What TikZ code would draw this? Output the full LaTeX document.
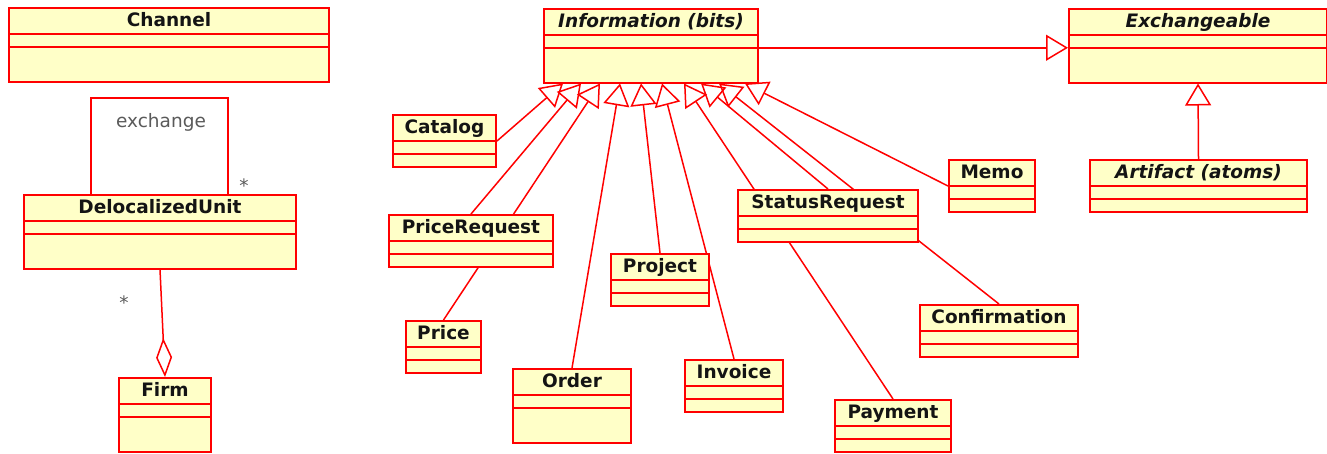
\documentclass[tikz,border=0pt]{standalone}
\usepackage{fontspec}
\setmainfont{DejaVu Sans}
\usetikzlibrary{arrows.meta,backgrounds}

\definecolor{umlred}{RGB}{255,0,0}
\definecolor{umlfill}{RGB}{255,255,200}
\definecolor{umltext}{RGB}{20,20,20}
\definecolor{umlgray}{RGB}{90,90,90}

\begin{document}
\begin{tikzpicture}[
  x=1pt, y=-1pt,
  font=\fontsize{18.5}{22}\selectfont\bfseries,
  cls/.style={draw=umlred, fill=umlfill, line width=2pt, inner sep=0pt, anchor=north west,
    text=umltext, text height=18.5pt, text depth=33.5pt},
  big/.style={text depth=55pt},
  abstr/.style={font=\fontsize{18.5}{22}\selectfont\bfseries\itshape},
  sep/.style={draw=umlred, line width=2pt},
  gen/.style={-{Triangle[open, length=22pt, width=26pt]}, draw=umlred, line width=1.5pt},
  aggr/.style={-{Diamond[open, length=39pt, width=16pt]}, draw=umlred, line width=1.5pt},
  assoc/.style={draw=umlred, line width=1.5pt},
  lbl/.style={text=umlgray, font=\fontsize{18.5}{22}\selectfont, anchor=base, inner sep=0pt}
]
\useasboundingbox (0,0) rectangle (1327,453);

% left part
\node[cls, big, minimum width=320pt] (channel) at (8,7) {Channel};
\node[cls, big, minimum width=272pt] (unit) at (23,194) {DelocalizedUnit};
\node[cls, big, minimum width=92pt] (firm) at (118,377) {Firm};

% abstract classes
\node[cls, big, abstr, minimum width=214pt] (info) at (543,8) {Information (bits)};
\node[cls, big, abstr, minimum width=258pt] (exch) at (1068,8) {Exchangeable};
\node[cls, abstr, minimum width=217pt] (artifact) at (1089,159) {Artifact (atoms)};

% kinds of information
\node[cls, minimum width=103pt] (catalog) at (392,114) {Catalog};
\node[cls, minimum width=164pt] (pricereq) at (388,214) {PriceRequest};
\node[cls, minimum width=75pt] (price) at (405,320) {Price};
\node[cls, big, minimum width=118pt] (order) at (512,368) {Order};
\node[cls, minimum width=98pt] (project) at (610,253) {Project};
\node[cls, minimum width=98pt] (invoice) at (684,359) {Invoice};
\node[cls, minimum width=180pt] (statusreq) at (737,189) {StatusRequest};
\node[cls, minimum width=86pt] (memo) at (948,159) {Memo};
\node[cls, minimum width=158pt] (confirm) at (919,304) {Confirmation};
\node[cls, minimum width=116pt] (payment) at (834,399) {Payment};

% compartments
\foreach \n in {channel,unit,firm,info,exch,artifact,catalog,pricereq,price,order,
                project,invoice,statusreq,memo,confirm,payment}
  \draw[sep] ([yshift=-26.5pt]\n.north west) -- ([yshift=-26.5pt]\n.north east)
             ([yshift=-39.5pt]\n.north west) -- ([yshift=-39.5pt]\n.north east);

% association labels
\node[lbl] (exchlbl) at (161,127) {exchange};
\node[lbl] (multtop) at (244,192) {*};
\node[lbl] (multfirm) at (124,309) {*};

\begin{scope}[on background layer]
\draw[assoc] ([xshift=68pt]unit.north west) -- ++(0,-96) -| ([xshift=205pt]unit.north west);
\draw[aggr] (unit.south) -- (firm.north);

\draw[gen] ([yshift=-2pt]info.east) -- ([yshift=-2pt]exch.west);
\draw[gen] (artifact.north) -- (exch.south);

\draw[gen] (catalog.east) -- ([xshift=20pt]info.south west);
\draw[gen] (pricereq.north) -- ([xshift=38pt]info.south west);
\draw[gen] (price.north) -- ([xshift=57pt]info.south west);
\draw[gen] (order.north) -- ([xshift=77pt]info.south west);
\draw[gen] (project.north) -- ([xshift=98pt]info.south west);
\draw[gen] (invoice.north) -- ([xshift=119pt]info.south west);
\draw[gen] (payment.north) -- ([xshift=141pt]info.south west);
\draw[gen] (statusreq.north) -- ([xshift=158pt]info.south west);
\draw[gen] (confirm.north) -- ([xshift=176pt]info.south west);
\draw[gen] (memo.west) -- ([xshift=202pt]info.south west);
\end{scope}
\end{tikzpicture}
\end{document}
